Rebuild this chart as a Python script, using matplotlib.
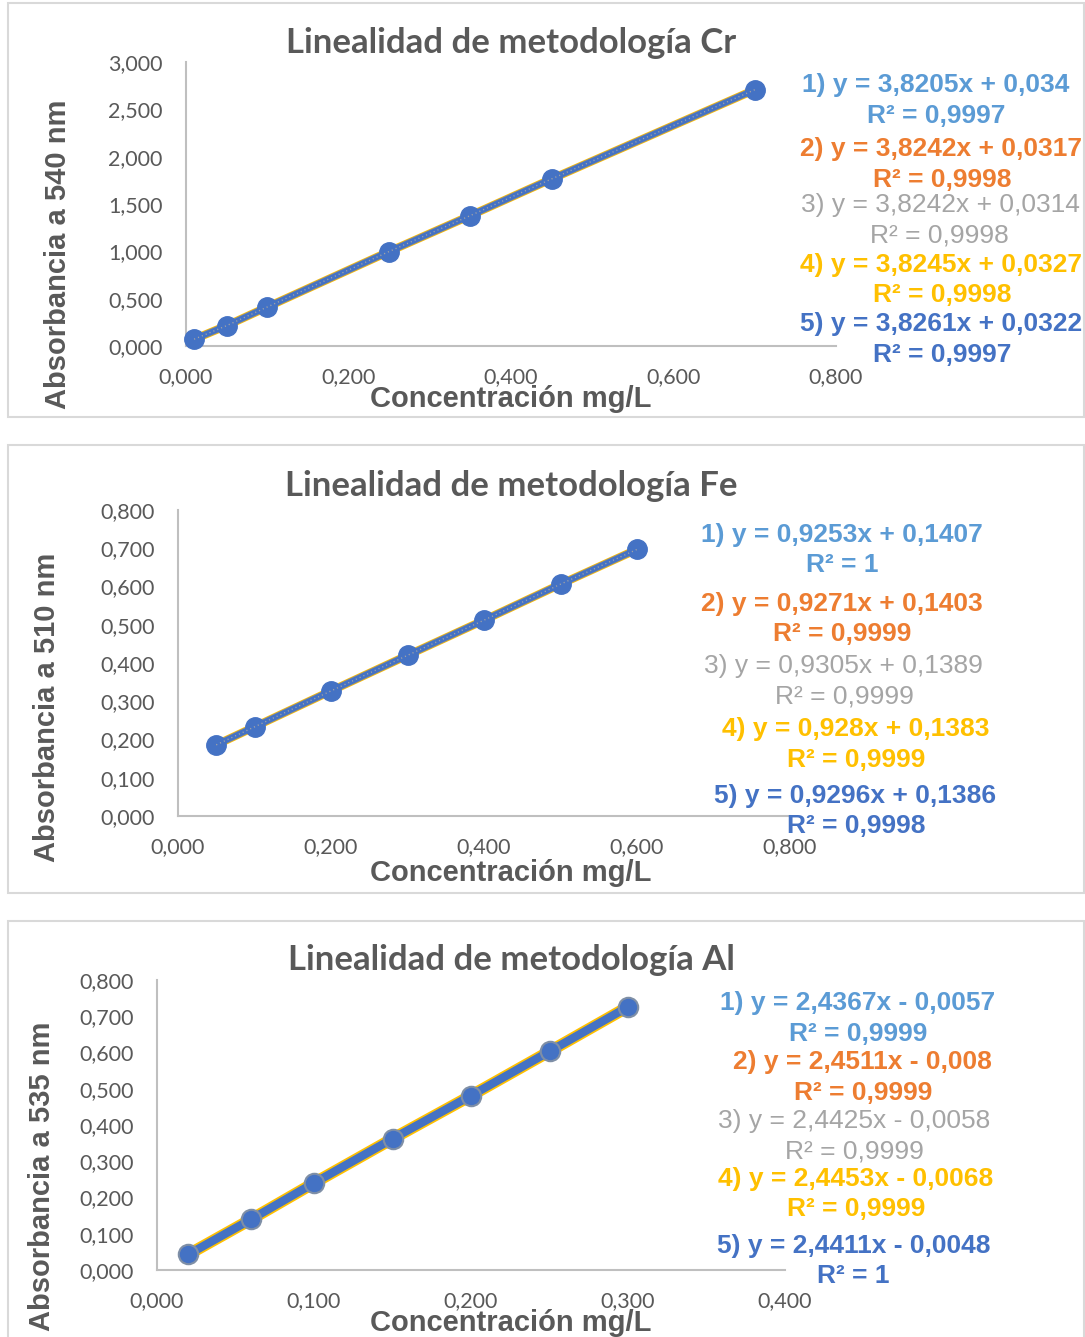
import matplotlib.pyplot as plt
from matplotlib.patches import Rectangle
from matplotlib.ticker import FuncFormatter

W, H = 1085, 1337

# datos
cr_conc = [0.010, 0.050, 0.100, 0.250, 0.350, 0.450, 0.700]
cr_abs = [0.072, 0.215, 0.412, 0.998, 1.378, 1.765, 2.707]
cr_eqs = ["1) y = 3,8205x + 0,034", "R² = 0,9997",
          "2) y = 3,8242x + 0,0317", "R² = 0,9998",
          "3) y = 3,8242x + 0,0314", "R² = 0,9998",
          "4) y = 3,8245x + 0,0327", "R² = 0,9998",
          "5) y = 3,8261x + 0,0322", "R² = 0,9997"]

fe_conc = [0.05, 0.10, 0.20, 0.30, 0.40, 0.50, 0.60]
fe_abs = [0.186, 0.233, 0.327, 0.420, 0.512, 0.606, 0.697]
fe_eqs = ["1) y = 0,9253x + 0,1407", "R² = 1",
          "2) y = 0,9271x + 0,1403", "R² = 0,9999",
          "3) y = 0,9305x + 0,1389", "R² = 0,9999",
          "4) y = 0,928x + 0,1383", "R² = 0,9999",
          "5) y = 0,9296x + 0,1386", "R² = 0,9998"]

al_conc = [0.02, 0.06, 0.10, 0.15, 0.20, 0.25, 0.30]
al_abs = [0.043, 0.140, 0.240, 0.362, 0.481, 0.603, 0.726]
al_eqs = ["1) y = 2,4367x - 0,0057", "R² = 0,9999",
          "2) y = 2,4511x - 0,008", "R² = 0,9999",
          "3) y = 2,4425x - 0,0058", "R² = 0,9999",
          "4) y = 2,4453x - 0,0068", "R² = 0,9999",
          "5) y = 2,4411x - 0,0048", "R² = 1"]

series_colors = ["#5B9BD5", "#ED7D31", "#A5A5A5", "#FFC000", "#4472C4"]
GRAY = "#595959"


def fx(x):
    return x / W


def fy(y):
    return 1 - y / H


def comma_fmt(v, pos):
    return f"{v:.3f}".replace(".", ",")


fig = plt.figure(figsize=(W / 100, H / 100), dpi=100)


def panel(box, axbox, conc, absb, xmax, xstep, ymax, ystep, title, ylabel,
          ylabel_pos, xlabel_y, title_y, eqs, eq_pos, thick=False):
    # marco del panel
    x0, y0, x1, y1 = box
    fig.patches.append(Rectangle((fx(x0), fy(y1)), fx(x1 - x0), (y1 - y0) / H,
                                 transform=fig.transFigure, fill=False,
                                 edgecolor="#D9D9D9", lw=1.5))
    l, t, r, b = axbox
    ax = fig.add_axes([fx(l), fy(b), fx(r - l), (b - t) / H])
    ax.set_xlim(0, xmax)
    ax.set_ylim(0, ymax)
    n = int(round(xmax / xstep))
    ax.set_xticks([i * xstep for i in range(n + 1)])
    m = int(round(ymax / ystep))
    ax.set_yticks([i * ystep for i in range(m + 1)])
    ax.xaxis.set_major_formatter(FuncFormatter(comma_fmt))
    ax.yaxis.set_major_formatter(FuncFormatter(comma_fmt))
    ax.tick_params(axis="y", length=0, pad=17, labelsize=15.5, labelcolor=GRAY)
    ax.tick_params(axis="x", length=0, pad=15, labelsize=15.5, labelcolor=GRAY)
    for lab in ax.get_xticklabels() + ax.get_yticklabels():
        lab.set_fontfamily("Lato")
    for s in ["top", "right"]:
        ax.spines[s].set_visible(False)
    for s in ["left", "bottom"]:
        ax.spines[s].set_color("#BFBFBF")
        ax.spines[s].set_linewidth(1.5)
    ax.patch.set_alpha(0)

    if thick:
        ax.plot(conc, absb, color="#FFC000", lw=8.5, solid_capstyle="round", zorder=2)
        ax.plot(conc, absb, color="#4472C4", lw=6, marker="o", ms=14,
                mfc="#4472C4", mec="#7F8FA6", mew=1.5, zorder=3)
    else:
        ax.plot(conc, absb, color="#FFC000", lw=6, zorder=2)
        ax.plot(conc, absb, color="#8C8C8C", lw=5, zorder=2)
        ax.plot(conc, absb, color="#4472C4", lw=4, marker="o", ms=14,
                mfc="#4472C4", mec="#4472C4", zorder=3)
        ax.plot(conc, absb, color="#A5A5A5", lw=1, ls=(0, (0.8, 2.2)), zorder=4)
    for ln in ax.lines:
        ln.set_clip_on(False)

    fig.text(fx(511), fy(title_y), title, ha="center", va="center",
             fontsize=25, fontweight="bold", color=GRAY, family="Lato")
    fig.text(fx(ylabel_pos[0]), fy(ylabel_pos[1]), ylabel, rotation=90,
             ha="center", va="center", fontsize=21, fontweight="bold",
             color=GRAY, family="Liberation Sans")
    fig.text(fx(511), fy(xlabel_y), "Concentración mg/L", ha="center",
             va="center", fontsize=21, fontweight="bold", color=GRAY,
             family="Liberation Sans")
    for i, (txt, (ex, ey)) in enumerate(zip(eqs, eq_pos)):
        k = i // 2
        fig.text(fx(ex), fy(ey), txt, ha="center", va="center", fontsize=19,
                 fontweight="normal" if k == 2 else "bold",
                 color=series_colors[k], family="Liberation Sans")
    return ax


panel((8, 3, 1084, 417), (186, 62, 836, 346), cr_conc, cr_abs, 0.8, 0.2, 3.0, 0.5,
      "Linealidad de metodología Cr", "Absorbancia a 540 nm", (58, 254), 399, 43,
      cr_eqs,
      [(936, 85), (936, 116), (941, 149), (942, 180), (940, 205), (939, 236),
       (941, 265), (942, 295), (941, 324), (942, 355)])

panel((8, 445, 1084, 893), (178, 510, 790, 816), fe_conc, fe_abs, 0.8, 0.2, 0.8, 0.1,
      "Linealidad de metodología Fe", "Absorbancia a 510 nm", (47, 707), 873, 486,
      fe_eqs,
      [(842, 535), (842, 565), (842, 604), (842, 634), (843, 666), (844, 697),
       (856, 729), (856, 760), (855, 796), (856, 826)])

panel((8, 921, 1084, 1340), (157, 980, 785, 1270), al_conc, al_abs, 0.4, 0.1, 0.8, 0.1,
      "Linealidad de metodología Al", "Absorbancia a 535 nm", (42, 1176), 1323, 960,
      al_eqs,
      [(858, 1003), (858, 1034), (862, 1062), (863, 1093), (854, 1121), (854, 1152),
       (856, 1179), (856, 1209), (854, 1246), (853, 1276)], thick=True)

fig.savefig("out.png", dpi=100)
